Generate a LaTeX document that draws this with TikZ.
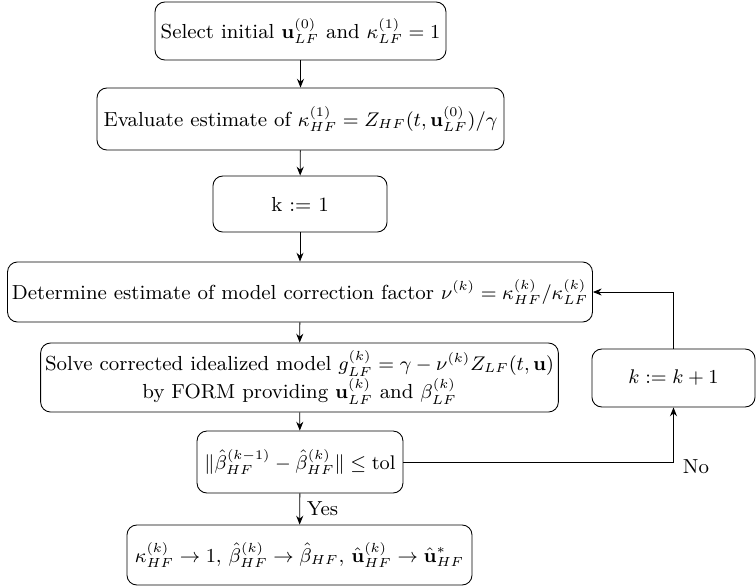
\documentclass[tikz,border=0pt]{standalone}
\usetikzlibrary{arrows.meta}
\begin{document}
\begin{tikzpicture}[x=0.455pt,y=-0.455pt,
  font=\fontsize{9.25pt}{11.2pt}\selectfont,
  box/.style={draw,rounded corners=4.5pt,align=center,inner sep=2pt},
  arr/.style={-{Stealth[length=4pt,width=3.2pt]}}]
\useasboundingbox (0,0) rectangle (756,587);
\node[box,minimum width=132.4pt,minimum height=26.4pt] (b1) at (300.5,31) {Select initial $\mathbf{u}_{LF}^{(0)}$ and $\kappa_{LF}^{(1)}=1$};
\node[box,minimum width=185.2pt,minimum height=28.2pt] (b2) at (300.5,119) {Evaluate estimate of $\kappa_{HF}^{(1)}=Z_{HF}(t,\mathbf{u}_{LF}^{(0)})/\gamma$};
\node[box,minimum width=79.2pt,minimum height=25.5pt] (b3) at (300,204) {k := 1};
\node[box,minimum width=264.8pt,minimum height=27.3pt] (b4) at (300,292) {Determine estimate of model correction factor $\nu^{(k)}=\kappa_{HF}^{(k)}/\kappa_{LF}^{(k)}$};
\node[box,minimum width=234.3pt,minimum height=31.4pt] (b5) at (299.5,377.5) {Solve corrected idealized model $g_{LF}^{(k)}=\gamma-\nu^{(k)}Z_{LF}(t,\mathbf{u})$\\ by FORM providing $\mathbf{u}_{LF}^{(k)}$ and $\beta_{LF}^{(k)}$};
\node[box,minimum width=93.7pt,minimum height=28.2pt] (b6) at (300,462) {$\|\hat\beta_{HF}^{(k-1)}-\hat\beta_{HF}^{(k)}\|\leq\mathrm{tol}$};
\node[box,minimum width=157pt,minimum height=27.3pt] (b7) at (299.5,555) {$\kappa_{HF}^{(k)}\to1$, $\hat\beta_{HF}^{(k)}\to\hat\beta_{HF}$, $\hat{\mathbf{u}}_{HF}^{(k)}\to\hat{\mathbf{u}}_{HF}^{*}$};
\node[box,minimum width=74.2pt,minimum height=26.4pt] (bk) at (673.5,378) {$k:=k+1$};
\draw[arr] (b1) -- (b2);
\draw[arr] (b2) -- (b3);
\draw[arr] (b3) -- (b4);
\draw[arr] (b4) -- (b5);
\draw[arr] (b5) -- (b6);
\draw[arr] (b6) -- node[right,inner sep=3pt] (yes) {Yes} (b7);
\coordinate (corner) at (b6.east -| bk.south);
\draw[arr] (b6.east) -- (corner) -- (bk.south);
\path (corner) ++(9,5) node[anchor=west,inner sep=0pt] (no) {No};
\draw[arr] (bk.north) |- (b4.east);
\end{tikzpicture}
\end{document}
